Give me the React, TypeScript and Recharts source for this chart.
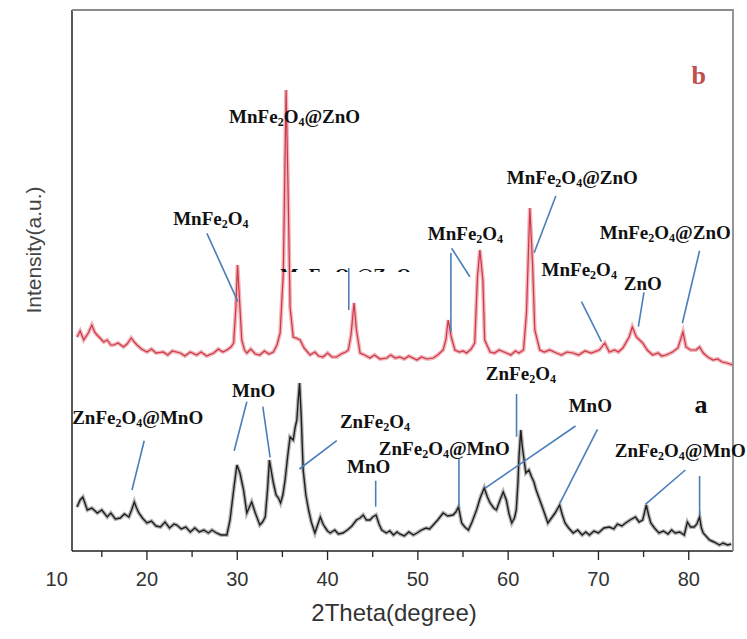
import type { JSX } from 'react'
import { LineChart, Line, XAxis, YAxis, ReferenceLine, ReferenceDot, Label } from 'recharts'

// 2θ (degree) vs intensity (a.u.)
const patternB: [number, number][] = [
  [12.26, 214], [12.6, 220], [13.0, 211], [13.5, 218], [13.9, 226], [14.2, 219], [14.47, 216], [14.8, 213],
  [15.2, 209], [15.6, 211], [16.0, 206], [16.3, 206], [16.8, 208], [17.4, 204], [17.8, 207], [18.26, 213],
  [18.6, 209], [18.9, 206], [19.4, 202], [20.0, 199], [20.5, 202], [21.0, 198], [21.8, 199], [22.3, 196],
  [22.8, 200], [23.7, 198], [24.2, 195], [24.8, 199], [25.5, 196], [26.0, 199], [26.6, 195], [27.4, 198],
  [27.9, 202], [28.4, 199], [28.85, 201], [29.3, 204], [29.6, 208], [29.85, 244], [30.03, 286], [30.25, 251],
  [30.5, 211], [30.8, 201], [31.06, 198], [31.5, 202], [32.0, 197], [32.5, 196], [33.0, 200], [33.5, 197],
  [34.0, 199], [34.4, 206], [34.75, 218], [35.1, 278], [35.41, 461], [35.65, 351], [35.85, 244], [36.2, 214],
  [36.5, 213], [36.96, 211], [37.4, 203], [38.06, 196], [38.6, 199], [39.0, 195], [39.5, 194], [40.0, 198],
  [40.5, 194], [41.0, 194], [41.5, 197], [42.0, 199], [42.3, 201], [42.6, 216], [42.93, 248], [43.2, 221],
  [43.6, 198], [44.1, 196], [44.7, 193], [45.2, 196], [45.8, 192], [46.55, 193], [47.0, 196], [47.5, 193],
  [48.0, 194], [48.5, 192], [49.0, 195], [49.9, 191], [50.4, 194], [51.0, 192], [51.7, 193], [52.2, 196],
  [52.8, 201], [53.1, 211], [53.36, 231], [53.7, 214], [54.1, 201], [54.6, 199], [55.0, 200], [55.4, 198],
  [55.9, 202], [56.3, 208], [56.6, 274], [56.87, 301], [57.2, 271], [57.4, 211], [58.0, 199], [58.5, 198],
  [59.0, 201], [59.8, 198], [60.3, 196], [60.8, 200], [61.2, 198], [61.7, 201], [62.03, 238], [62.4, 343],
  [62.7, 288], [62.95, 221], [63.5, 201], [64.0, 199], [64.6, 201], [65.35, 198], [65.9, 196], [66.5, 199],
  [67.2, 198], [67.8, 196], [68.5, 200], [69.2, 198], [70.1, 201], [70.7, 208], [71.2, 199], [71.8, 201],
  [72.2, 199], [72.7, 203], [73.4, 214], [73.75, 224], [74.2, 214], [74.9, 208], [75.4, 201], [76.0, 196],
  [76.6, 198], [77.0, 195], [77.5, 196], [78.2, 199], [78.8, 203], [79.36, 219], [79.7, 204], [80.2, 201],
  [80.8, 201], [81.2, 204], [81.6, 198], [82.1, 194], [82.7, 191], [83.2, 192], [83.7, 189], [84.2, 188],
  [84.9, 186],
]

const patternA: [number, number][] = [
  [12.26, 44], [12.6, 51], [12.9, 54], [13.2, 46], [13.4, 41], [13.9, 43], [14.5, 38], [15.0, 41],
  [15.6, 34], [16.0, 38], [16.5, 32], [17.05, 33], [17.5, 37], [18.0, 34], [18.3, 41], [18.6, 49],
  [18.85, 43], [19.1, 38], [19.5, 33], [20.0, 28], [20.5, 30], [21.0, 25], [21.5, 24], [22.0, 29],
  [22.5, 23], [23.0, 27], [23.3, 26], [23.8, 22], [24.3, 24], [24.8, 19], [25.3, 23], [25.8, 19],
  [26.3, 21], [26.8, 18], [27.2, 21], [27.7, 18], [28.2, 16], [28.85, 16], [29.2, 31], [29.6, 61],
  [29.96, 86], [30.3, 78], [30.7, 61], [31.06, 38], [31.3, 43], [31.6, 49], [32.0, 38], [32.5, 26],
  [32.8, 29], [33.1, 34], [33.35, 61], [33.56, 91], [34.0, 68], [34.3, 56], [34.56, 53], [34.8, 48],
  [35.05, 56], [35.3, 71], [35.6, 96], [35.85, 114], [36.2, 111], [36.4, 123], [36.6, 131], [36.75, 151],
  [36.9, 168], [37.07, 138], [37.3, 81], [37.6, 56], [37.9, 41], [38.2, 29], [38.6, 18], [38.9, 26],
  [39.2, 34], [39.5, 27], [39.7, 24], [40.0, 20], [40.3, 18], [40.8, 21], [41.2, 17], [41.7, 18],
  [42.2, 21], [42.7, 25], [43.2, 31], [43.6, 33], [43.95, 36], [44.3, 31], [44.7, 31], [45.0, 34],
  [45.37, 36], [45.7, 27], [46.0, 21], [46.5, 18], [46.9, 20], [47.3, 16], [47.7, 19], [48.0, 17],
  [48.5, 15], [49.0, 19], [49.5, 16], [49.9, 18], [50.4, 21], [50.9, 23], [51.3, 22], [51.7, 26],
  [52.2, 31], [52.8, 38], [53.3, 35], [53.9, 36], [54.2, 39], [54.5, 44], [54.85, 28], [55.2, 24],
  [55.6, 21], [56.0, 29], [56.5, 41], [56.9, 53], [57.35, 63], [57.7, 54], [58.0, 48], [58.4, 43],
  [58.7, 41], [59.1, 51], [59.45, 59], [59.8, 51], [60.1, 37], [60.4, 28], [60.7, 33], [60.9, 41],
  [61.1, 71], [61.2, 94], [61.4, 121], [61.55, 106], [61.66, 98], [61.96, 78], [62.3, 81], [62.6, 74],
  [62.85, 69], [63.1, 61], [63.5, 51], [63.9, 41], [64.4, 28], [64.8, 33], [65.2, 38], [65.7, 46],
  [66.0, 36], [66.3, 28], [66.7, 23], [67.2, 18], [67.7, 21], [68.2, 16], [68.6, 19], [69.0, 16],
  [69.5, 20], [70.0, 18], [70.6, 23], [71.2, 24], [71.7, 22], [72.1, 27], [72.6, 25], [73.0, 28],
  [73.5, 31], [74.1, 34], [74.5, 29], [74.9, 31], [75.3, 46], [75.55, 36], [75.8, 28], [76.2, 23],
  [76.7, 18], [77.2, 20], [77.7, 17], [78.1, 21], [78.5, 18], [79.0, 19], [79.5, 16], [79.85, 29],
  [80.2, 24], [80.6, 24], [80.9, 27], [81.2, 34], [81.4, 23], [81.6, 18], [82.0, 14], [82.3, 11],
  [82.8, 9], [83.4, 6], [83.8, 8], [84.3, 6], [84.7, 7],
]

const xTicks = [10, 15, 20, 25, 30, 35, 40, 45, 50, 55, 60, 65, 70, 75, 80]
const xDomain: [number, number] = [11.7, 84.9]
const yDomain: [number, number] = [0, 541]

// phase labels: text, 2θ, intensity, anchor
const phaseLabels: { text: string; x: number; y: number; anchor?: 'start' | 'end'; hidden?: boolean }[] = [
  { text: 'MnFe2O4', x: 22.9, y: 326 },
  { text: 'MnFe2O4@ZnO', x: 29.1, y: 428 },
  { text: 'MnFe2O4@ZnO', x: 34.75, y: 269, hidden: true },
  { text: 'MnFe2O4', x: 51.1, y: 311 },
  { text: 'MnFe2O4@ZnO', x: 59.85, y: 367 },
  { text: 'MnFe2O4', x: 63.7, y: 275 },
  { text: 'ZnO', x: 72.8, y: 261 },
  { text: 'MnFe2O4@ZnO', x: 70.14, y: 312 },
  { text: 'ZnFe2O4@MnO', x: 11.72, y: 127 },
  { text: 'MnO', x: 29.43, y: 154 },
  { text: 'ZnFe2O4', x: 41.37, y: 123 },
  { text: 'MnO', x: 42.16, y: 78 },
  { text: 'ZnFe2O4@MnO', x: 60.19, y: 96, anchor: 'end' },
  { text: 'ZnFe2O4', x: 57.53, y: 171 },
  { text: 'MnO', x: 66.7, y: 139 },
  { text: 'ZnFe2O4@MnO', x: 71.8, y: 94 },
]

// leader lines [x1, y1, x2, y2]
const leaders: [number, number, number, number][] = [
  [26.64, 317.7, 30.07, 249.3],
  [42.35, 283, 42.35, 241],
  [53.66, 298, 53.66, 219],
  [53.74, 302.7, 55.76, 274.3],
  [65.28, 355, 62.88, 298.3],
  [68.12, 249.3, 70.33, 209.3],
  [75.04, 258.7, 74.42, 224.3],
  [81.2, 300.3, 79.29, 227.7],
  [19.7, 110.3, 18.34, 61],
  [31.06, 149.3, 29.66, 100.3],
  [32.83, 144.3, 33.64, 93.7],
  [41.02, 110.3, 36.88, 82],
  [45.33, 70.3, 45.33, 44.3],
  [54.55, 92.7, 54.55, 44.3],
  [60.93, 157, 60.93, 114.3],
  [67.46, 125, 57.42, 62.7],
  [69.89, 121.7, 65.72, 47.7],
  [79.62, 81, 75.2, 46.7],
  [81.2, 75, 81.2, 35.3],
]

const dataB = patternB.map(([x, y]) => ({ x, y }))
const dataA = patternA.map(([x, y]) => ({ x, y }))

const SERIF = '"Liberation Serif", "Times New Roman", serif'
const SANS = '"Liberation Sans", Arial, sans-serif'
const PLOT_RIGHT = 733

const ChemText = ({ cx, cy, text, anchor = 'start', hidden = false, idx }: any): JSX.Element => {
  const parts: { s: string; sub: boolean }[] = []
  for (const ch of text) {
    const sub = /[0-9]/.test(ch)
    const last = parts[parts.length - 1]
    if (last && last.sub === sub) last.s += ch
    else parts.push({ s: ch, sub })
  }
  let inSub = false
  const clipId = `clip-lbl-${idx}`
  const node = (
    <text x={cx} y={cy} textAnchor={anchor} fontFamily={SERIF} fontWeight="bold" fontSize={19} fill="#111">
      {parts.map((p, i) => {
        let dy = 0
        if (p.sub && !inSub) dy = 3
        if (!p.sub && inSub) dy = -3
        inSub = p.sub
        return (
          <tspan key={i} dy={dy} fontSize={p.sub ? 12 : 19}>
            {p.s}
          </tspan>
        )
      })}
    </text>
  )
  if (!hidden) return node
  return (
    <g>
      <defs>
        <clipPath id={clipId}>
          <rect x={cx - 5} y={cy - 16} width={150} height={6} />
        </clipPath>
      </defs>
      <g clipPath={`url(#${clipId})`}>{node}</g>
    </g>
  )
}

const XTick = (props: any): JSX.Element => {
  const { x, y, payload } = props
  const v = payload.value as number
  const major = v % 10 === 0
  return (
    <g>
      {v > 11 && <line x1={x} x2={x} y1={y} y2={y + (major ? 9 : 6)} stroke="#222" strokeWidth={1.3} />}
      {major && (
        <text x={x} y={y + 35} textAnchor="middle" fontSize={20} fill="#333" fontFamily={SANS}>
          {v}
        </text>
      )}
    </g>
  )
}

// y-axis title plus the grey top/right frame edges, drawn from the axis viewBox
const YTitleAndFrame = (props: any): JSX.Element => {
  const vb = props.viewBox || { x: 12, y: 10, width: 60, height: 541 }
  const left = vb.x + vb.width
  const top = vb.y
  const bottom = vb.y + vb.height
  return (
    <g>
      <path
        d={`M${left},${top} L${PLOT_RIGHT},${top} L${PLOT_RIGHT},${bottom}`}
        fill="none"
        stroke="#8a8a8a"
        strokeWidth={1.8}
      />
      <text
        x={33}
        y={250}
        transform="rotate(-90 33 250)"
        textAnchor="middle"
        dominantBaseline="central"
        fontSize={21}
        fill="#444"
        fontFamily={SANS}
      >
        Intensity(a.u.)
      </text>
    </g>
  )
}

export default function App(): JSX.Element {
  return (
    <div style={{ position: 'absolute', left: 0, top: 0, width: 747, height: 639, background: '#fff' }}>
      <LineChart width={747} height={639} margin={{ top: 10, right: 14, bottom: 0, left: 12 }}>
        <XAxis
          type="number"
          dataKey="x"
          domain={xDomain}
          allowDataOverflow
          ticks={xTicks}
          interval={0}
          tickSize={0}
          tickMargin={0}
          tickLine={false}
          tick={<XTick />}
          height={88}
          axisLine={{ stroke: '#222', strokeWidth: 1.5 }}
        >
          <Label
            content={() => (
              <text x={394} y={621} textAnchor="middle" fontSize={24} fill="#333" fontFamily={SANS}>
                2Theta(degree)
              </text>
            )}
          />
        </XAxis>
        <YAxis
          type="number"
          domain={yDomain}
          allowDataOverflow
          tick={false}
          tickLine={false}
          width={60}
          axisLine={{ stroke: '#222', strokeWidth: 1.5 }}
        >
          <Label content={(p: any) => <YTitleAndFrame {...p} />} />
        </YAxis>

        <Line data={dataB} dataKey="y" type="linear" stroke="#efb7bc" strokeWidth={4} dot={false} isAnimationActive={false} />
        <Line data={dataB} dataKey="y" type="linear" stroke="#cf3646" strokeWidth={1.2} dot={false} isAnimationActive={false} />
        <Line data={dataA} dataKey="y" type="linear" stroke="#b8b8b8" strokeWidth={4} dot={false} isAnimationActive={false} />
        <Line data={dataA} dataKey="y" type="linear" stroke="#1e1e1e" strokeWidth={1.4} dot={false} isAnimationActive={false} />

        {leaders.map(([x1, y1, x2, y2], i) => (
          <ReferenceLine
            key={`ld-${i}`}
            segment={[{ x: x1, y: y1 }, { x: x2, y: y2 }]}
            stroke="#4a7ebb"
            strokeWidth={1.6}
            ifOverflow="visible"
          />
        ))}

        {phaseLabels.map((l, i) => (
          <ReferenceDot
            key={`lb-${i}`}
            x={l.x}
            y={l.y}
            r={0}
            ifOverflow="visible"
            shape={(p: any) => <ChemText cx={p.cx} cy={p.cy} text={l.text} anchor={l.anchor} hidden={l.hidden} idx={i} />}
          />
        ))}

        <ReferenceDot
          x={80.3}
          y={467}
          r={0}
          ifOverflow="visible"
          shape={(p: any) => (
            <text x={p.cx} y={p.cy} fontFamily={SERIF} fontWeight="bold" fontSize={26} fill="#c0504d">
              b
            </text>
          )}
        />
        <ReferenceDot
          x={80.65}
          y={138}
          r={0}
          ifOverflow="visible"
          shape={(p: any) => (
            <text x={p.cx} y={p.cy} fontFamily={SERIF} fontWeight="bold" fontSize={26} fill="#111">
              a
            </text>
          )}
        />
      </LineChart>
    </div>
  )
}
